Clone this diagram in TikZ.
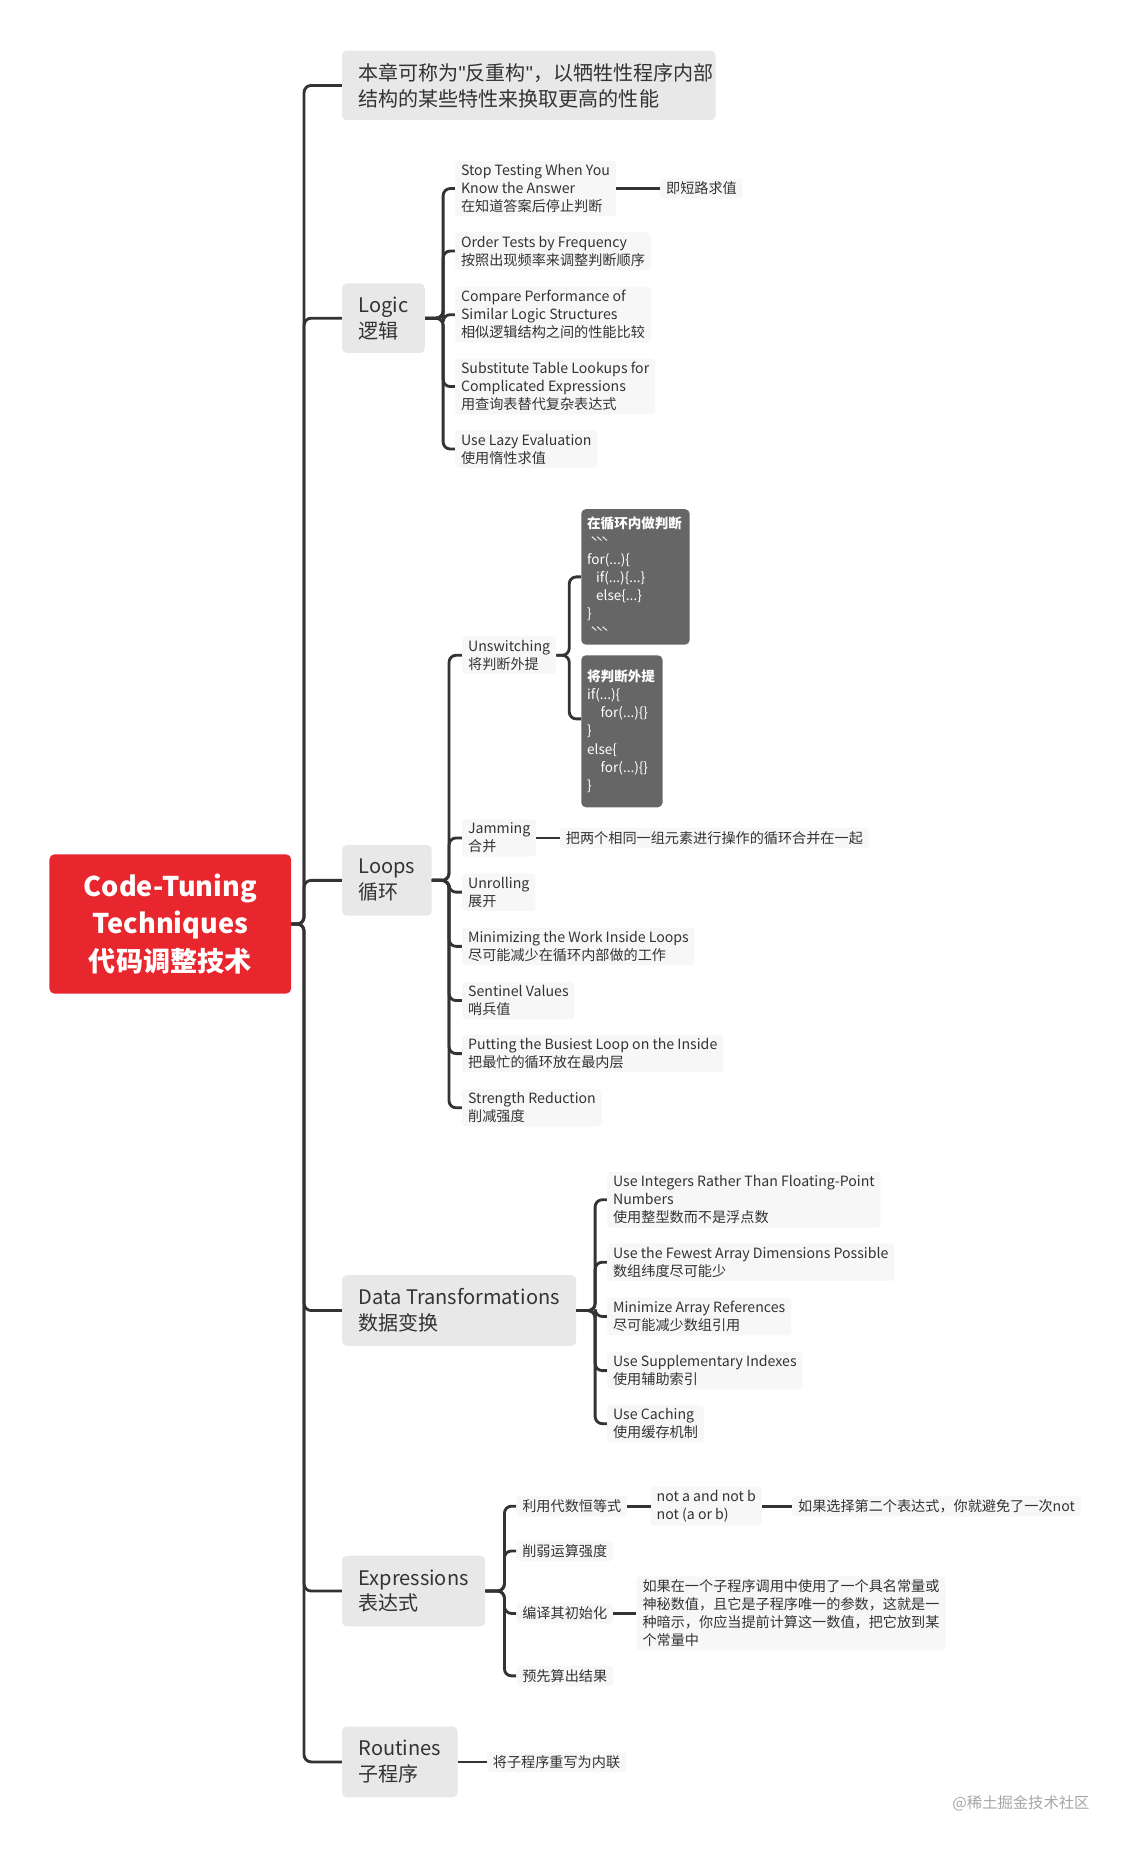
\documentclass[tikz,border=0pt]{standalone}
\usepackage{fontspec}
\setmainfont{Noto Sans CJK SC}
\newfontfamily\latinq{Liberation Sans}
\XeTeXlinebreaklocale "zh"
\XeTeXlinebreakskip=0pt plus 1pt
\newcommand\bq{\`{}\,\`{}\,\`{}}
\begin{document}
\begin{tikzpicture}[x=1pt,y=-1pt,
  leaf/.style={fill=leafgray,rounded corners=3pt,inner xsep=5pt,inner ysep=3pt,align=left,font=\fontsize{12}{15.3}\selectfont,text=txt,anchor=west},
  br/.style={fill=brgray,rounded corners=4pt,inner xsep=14pt,align=left,font=\fontsize{17}{22}\selectfont,text=txt,anchor=west},
  code/.style={fill=codegray,rounded corners=4pt,inner xsep=5pt,inner ysep=4pt,align=left,font=\fontsize{11.5}{15.3}\selectfont,text=white,anchor=west,text width=82pt},
  ln/.style={draw=lncol,line width=2.4pt,rounded corners=6pt}]
\definecolor{leafgray}{HTML}{F7F7F7}
\definecolor{brgray}{HTML}{E8E8E8}
\definecolor{codegray}{HTML}{666666}
\definecolor{txt}{HTML}{333333}
\definecolor{lncol}{HTML}{333333}
\definecolor{rootred}{HTML}{E8262D}
\useasboundingbox (0,0) rectangle (960,1574);
% root
\node[fill=rootred,rounded corners=4pt,minimum width=205pt,minimum height=118pt,align=center,text=white,font=\fontsize{23}{32}\selectfont\bfseries] (root) at (144.5,784) {Code-Tuning\\Techniques\\代码调整技术};
% branches
\node[br,minimum height=59pt,text width=289pt,align=left] (top) at (290,72.5) {\hbox{本章可称为{\latinq"}反重构{\latinq"}，以牺牲性程序内部}\\结构的某些特性来换取更高的性能};
\node[br,minimum height=59pt] (logic) at (290,270) {Logic\\逻辑};
\node[br,minimum height=60pt] (loops) at (290,747) {Loops\\循环};
\node[br,minimum height=60pt] (data) at (290,1112) {Data Transformations\\数据变换};
\node[br,minimum height=60pt] (expr) at (290,1350) {Expressions\\表达式};
\node[br,minimum height=60pt] (rout) at (290,1495) {Routines\\子程序};
\foreach \b in {top,logic,loops,data,expr,rout}
  \draw[ln] (root.east) -- (258,784) |- (\b.west);
% logic
\node[leaf] (l1) at (386,160) {Stop Testing When You\\Know the Answer\\在知道答案后停止判断};
\node[leaf] (l2) at (386,213) {Order Tests by Frequency\\按照出现频率来调整判断顺序};
\node[leaf] (l3) at (386,267) {Compare Performance of\\Similar Logic Structures\\相似逻辑结构之间的性能比较};
\node[leaf] (l4) at (386,328) {Substitute Table Lookups for\\Complicated Expressions\\用查询表替代复杂表达式};
\node[leaf] (l5) at (386,381) {Use Lazy Evaluation\\使用惰性求值};
\foreach \c in {l1,l2,l3,l4,l5}
  \draw[ln] (logic.east) -- (376,270) |- (\c.west);
\node[leaf] (l1a) at (560,160) {即短路求值};
\draw[ln] (l1.east) -- (l1a.west);
% loops
\node[leaf] (p1) at (392,556) {Unswitching\\将判断外提};
\node[leaf] (p2) at (392,711) {Jamming\\合并};
\node[leaf] (p3) at (392,757) {Unrolling\\展开};
\node[leaf] (p4) at (392,803) {Minimizing the Work Inside Loops\\尽可能减少在循环内部做的工作};
\node[leaf] (p5) at (392,849) {Sentinel Values\\哨兵值};
\node[leaf] (p6) at (392,894) {Putting the Busiest Loop on the Inside\\把最忙的循环放在最内层};
\node[leaf] (p7) at (392,940) {Strength Reduction\\削减强度};
\foreach \c in {p1,p2,p3,p4,p5,p6,p7}
  \draw[ln] (loops.east) -- (381,747) |- (\c.west);
\node[code,minimum height=115pt] (c1) at (493,489.5) {\textbf{在循环内做判断}\\\bq\\for(...)\{\\\ \ if(...)\{...\}\\\ \ else\{...\}\\\}\\\bq};
\node[code,minimum height=129pt,text width=59pt] (c2) at (493,620.5) {\textbf{将判断外提}\\if(...)\{\\\ \ \ for(...)\{\}\\\}\\else\{\\\ \ \ for(...)\{\}\\\}};
\draw[ln] (p1.east) -- (483,556) |- (c1.west);
\draw[ln] (p1.east) -- (483,556) |- (493,610);
\node[leaf] (p2a) at (475,711) {把两个相同一组元素进行操作的循环合并在一起};
\draw[ln] (p2.east) -- (p2a.west);
% data
\node[leaf] (d1) at (515,1018) {Use Integers Rather Than Floating-Point\\Numbers\\使用整型数而不是浮点数};
\node[leaf] (d2) at (515,1071) {Use the Fewest Array Dimensions Possible\\数组纬度尽可能少};
\node[leaf] (d3) at (515,1117) {Minimize Array References\\尽可能减少数组引用};
\node[leaf] (d4) at (515,1163) {Use Supplementary Indexes\\使用辅助索引};
\node[leaf] (d5) at (515,1208) {Use Caching\\使用缓存机制};
\foreach \c in {d1,d2,d3,d4,d5}
  \draw[ln] (data.east) -- (505,1112) |- (\c.west);
% expressions
\node[leaf] (e1) at (438,1278) {利用代数恒等式};
\node[leaf] (e2) at (438,1316) {削弱运算强度};
\node[leaf] (e3) at (438,1369) {编译其初始化};
\node[leaf] (e4) at (438,1422) {预先算出结果};
\foreach \c in {e1,e2,e3,e4}
  \draw[ln] (expr.east) -- (428,1350) |- (\c.west);
\node[leaf] (e1a) at (552,1278) {not a and not b\\not (a or b)};
\node[leaf] (e1b) at (672,1278) {如果选择第二个表达式，你就避免了一次not};
\draw[ln] (e1.east) -- (e1a.west);
\draw[ln] (e1a.east) -- (e1b.west);
\node[leaf,text width=252pt] (e3a) at (540,1369) {如果在一个子程序调用中使用了一个具名常量或\\神秘数值，且它是子程序唯一的参数，这就是一\\种暗示，你应当提前计算这一数值，把它放到某\\个常量中};
\draw[ln] (e3.east) -- (e3a.west);
% routines
\node[leaf] (r1) at (413,1495) {将子程序重写为内联};
\draw[ln] (rout.east) -- (r1.west);
\node[font=\fontsize{13}{16}\selectfont,text=black!35,anchor=east] (wm) at (928,1530) {@稀土掘金技术社区};
\end{tikzpicture}
\end{document}
